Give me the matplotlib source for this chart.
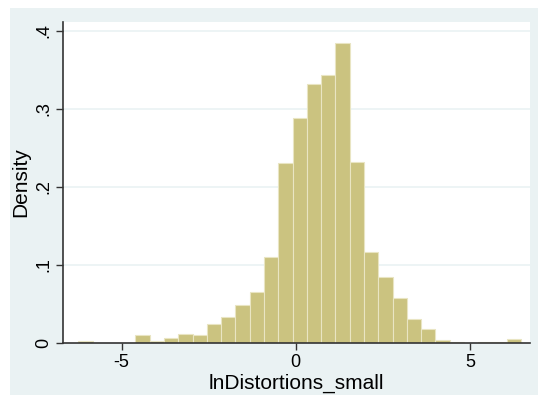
import matplotlib.pyplot as plt
import matplotlib.patches as mpatches
import numpy as np

plt.rcParams['font.family'] = ['Liberation Sans', 'DejaVu Sans']
plt.rcParams['axes.unicode_minus'] = False

# histogram bins (start, width) and densities
bin_start = -6.24
bin_width = 0.41
density = [0.0017, 0, 0, 0, 0.0098, 0.0026, 0.006, 0.011, 0.0098, 0.0235,
           0.033, 0.0487, 0.065, 0.110, 0.230, 0.288, 0.332, 0.343, 0.384,
           0.2316, 0.1167, 0.0838, 0.0568, 0.030, 0.0175, 0.003, 0.0015,
           0, 0.0015, 0.0015, 0.0045]
xticks = [-5, 0, 5]
xtick_labels = ['-5', '0', '5']
yticks = [0, 0.1, 0.2, 0.3, 0.4]
ytick_labels = ['0', '.1', '.2', '.3', '.4']

W, H = 538, 395
fig = plt.figure(figsize=(W / 100, H / 100), dpi=100)
fig.patch.set_facecolor('white')
# stata-like outer background
bg = mpatches.Rectangle((10 / W, 0), 1 - 10 / W, 1 - 8 / H,
                        transform=fig.transFigure,
                        facecolor='#EAF2F3', edgecolor='none', zorder=-10)
fig.add_artist(bg)

ax = fig.add_axes([63 / W, (H - 342.7) / H, (530 - 63) / W, (342.7 - 22) / H])
ax.set_facecolor('white')

edges = bin_start + bin_width * np.arange(len(density))
ax.bar(edges, density, width=bin_width, align='edge', color='#CBC380',
       edgecolor='#E9E5C3', linewidth=0.8, zorder=2)

ax.set_xlim(-6.681, 6.727)
ax.set_ylim(0, 0.4111)

for y in yticks[1:]:
    ax.axhline(y, color='#EAF2F3', linewidth=1.2, zorder=1)

ax.set_xticks(xticks)
ax.set_xticklabels(xtick_labels, fontsize=13)
ax.set_yticks(yticks)
ax.set_yticklabels(ytick_labels, fontsize=13, rotation=90, va='center')
ax.tick_params(axis='both', length=5, width=1, color='#333333', pad=3)

for s in ['top', 'right']:
    ax.spines[s].set_visible(False)
for s in ['left', 'bottom']:
    ax.spines[s].set_color('#333333')
    ax.spines[s].set_linewidth(1.2)

ax.set_xlabel('lnDistortions_small', fontsize=15, labelpad=2)
ax.set_ylabel('Density', fontsize=15, labelpad=3)

fig.savefig('out.png', dpi=100)
